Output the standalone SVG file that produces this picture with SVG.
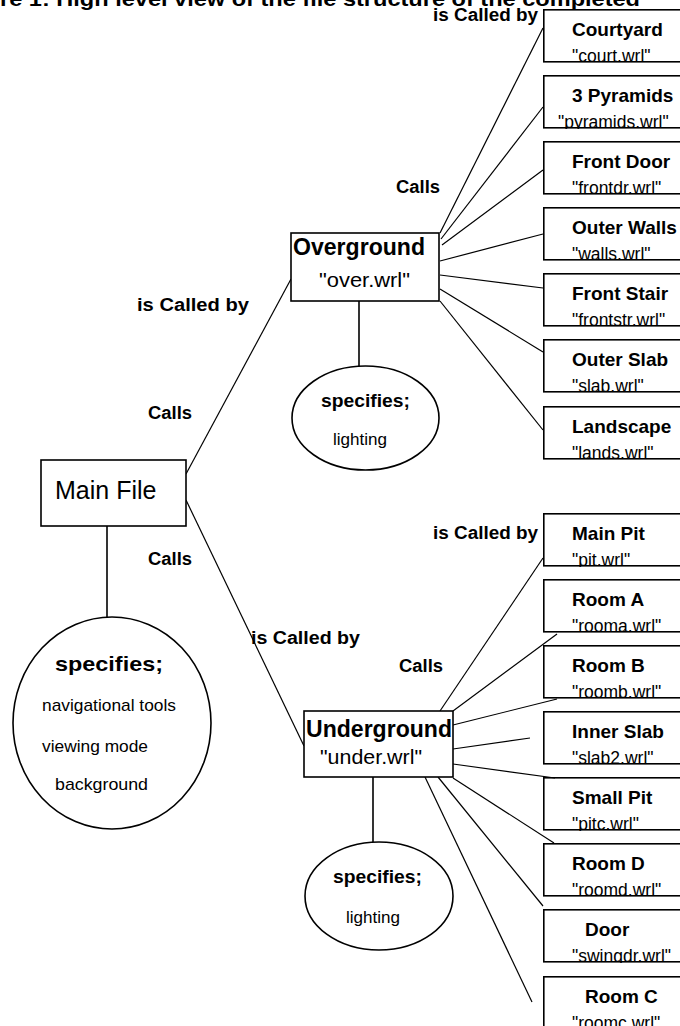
<svg xmlns="http://www.w3.org/2000/svg" width="680" height="1026" viewBox="0 0 680 1026">
<style>
text{font-family:"Liberation Sans",Arial,sans-serif;fill:#000}
.box{fill:none;stroke:#000;stroke-width:1.6}
.shape{fill:#fff;stroke:#000;stroke-width:1.6}
.ft{font-size:19px;font-weight:bold}
.fn{font-size:17.5px}
.lbl{font-size:18px;font-weight:bold}
.spec{font-weight:bold}
.conn line{stroke:#000;stroke-width:1.2}
.conn line.v{stroke-width:1.6}
</style>
<rect width="680" height="1026" fill="#fff"/>
<text x="0" y="5.5" font-size="20" font-weight="bold" textLength="640" lengthAdjust="spacingAndGlyphs">re 1: High level view of the file structure of the completed</text>

<g id="connectors" class="conn">
<line x1="440" y1="233" x2="543" y2="28"/>
<line x1="441" y1="239" x2="543" y2="107"/>
<line x1="442" y1="245" x2="543" y2="170"/>
<line x1="440" y1="261" x2="543" y2="234"/>
<line x1="440" y1="275" x2="543" y2="288"/>
<line x1="440" y1="289" x2="543" y2="352"/>
<line x1="440" y1="301" x2="543" y2="430"/>
<line x1="186" y1="474" x2="291" y2="279"/>
<line x1="186" y1="500" x2="304" y2="746"/>
<line class="v" x1="107" y1="526" x2="107" y2="617"/>
<line class="v" x1="359" y1="301" x2="359" y2="366"/>
<line class="v" x1="373" y1="777" x2="373" y2="842"/>
<line x1="440" y1="711" x2="543" y2="558"/>
<line x1="453" y1="711" x2="557" y2="634"/>
<line x1="453" y1="725" x2="557" y2="699"/>
<line x1="453" y1="749" x2="530" y2="738"/>
<line x1="453" y1="764" x2="555" y2="778"/>
<line x1="453" y1="778" x2="554" y2="843"/>
<line x1="438" y1="777" x2="543" y2="906"/>
<line x1="425" y1="777" x2="532" y2="1002"/>
</g>

<g id="labels">
<text class="lbl" x="433" y="21" textLength="105" lengthAdjust="spacingAndGlyphs">is Called by</text>
<text class="lbl" x="396" y="193" textLength="44" lengthAdjust="spacingAndGlyphs">Calls</text>
<text class="lbl" x="137" y="311" textLength="112" lengthAdjust="spacingAndGlyphs">is Called by</text>
<text class="lbl" x="148" y="419" textLength="44" lengthAdjust="spacingAndGlyphs">Calls</text>
<text class="lbl" x="148" y="565" textLength="44" lengthAdjust="spacingAndGlyphs">Calls</text>
<text class="lbl" x="251" y="644" textLength="109" lengthAdjust="spacingAndGlyphs">is Called by</text>
<text class="lbl" x="399" y="672" textLength="44" lengthAdjust="spacingAndGlyphs">Calls</text>
<text class="lbl" x="433" y="539" textLength="105" lengthAdjust="spacingAndGlyphs">is Called by</text>
</g>

<g id="main-file">
<rect class="shape" x="41" y="460" width="145" height="66"/>
<text x="55" y="499" font-size="25">Main File</text>
</g>
<g id="main-specifies">
<ellipse class="shape" cx="112" cy="723" rx="99" ry="106"/>
<text class="spec" x="55" y="671" font-size="21" textLength="108" lengthAdjust="spacingAndGlyphs">specifies;</text>
<text x="42" y="711" font-size="17" textLength="134" lengthAdjust="spacingAndGlyphs">navigational tools</text>
<text x="42" y="752" font-size="17" textLength="106" lengthAdjust="spacingAndGlyphs">viewing mode</text>
<text x="55" y="790" font-size="17" textLength="93" lengthAdjust="spacingAndGlyphs">background</text>
</g>

<g id="overground">
<rect class="shape" x="291" y="233" width="148" height="68"/>
<text x="293" y="255" font-size="23" font-weight="bold" textLength="132" lengthAdjust="spacingAndGlyphs">Overground</text>
<text x="319" y="287" font-size="21" textLength="91" lengthAdjust="spacingAndGlyphs">"over.wrl"</text>
</g>
<g id="over-specifies">
<ellipse class="shape" cx="365.5" cy="418" rx="73.5" ry="52"/>
<text class="spec" x="321" y="407" font-size="18" textLength="89" lengthAdjust="spacingAndGlyphs">specifies;</text>
<text x="333" y="445" font-size="16" textLength="54" lengthAdjust="spacingAndGlyphs">lighting</text>
</g>

<g id="underground">
<rect class="shape" x="304" y="711" width="149" height="66"/>
<text x="306" y="737" font-size="23" font-weight="bold" textLength="146" lengthAdjust="spacingAndGlyphs">Underground</text>
<text x="320" y="764" font-size="21" textLength="102" lengthAdjust="spacingAndGlyphs">"under.wrl"</text>
</g>
<g id="under-specifies">
<ellipse class="shape" cx="379" cy="896" rx="74" ry="54"/>
<text class="spec" x="333" y="883" font-size="18" textLength="89" lengthAdjust="spacingAndGlyphs">specifies;</text>
<text x="346" y="923" font-size="16" textLength="54" lengthAdjust="spacingAndGlyphs">lighting</text>
</g>

<g id="courtyard"><svg x="543" y="9" width="140" height="54">
<text class="ft" x="29" y="27">Courtyard</text><text class="fn" x="29" y="53">"court.wrl"</text>
<rect class="box" x="0.8" y="0.8" width="200" height="52"/></svg></g>
<g id="pyramids"><svg x="543" y="75" width="140" height="54">
<text class="ft" x="29" y="27">3 Pyramids</text><text class="fn" x="15" y="53">"pyramids.wrl"</text>
<rect class="box" x="0.8" y="0.8" width="200" height="52"/></svg></g>
<g id="front-door"><svg x="543" y="141" width="140" height="54">
<text class="ft" x="29" y="27">Front Door</text><text class="fn" x="29" y="53">"frontdr.wrl"</text>
<rect class="box" x="0.8" y="0.8" width="200" height="52"/></svg></g>
<g id="outer-walls"><svg x="543" y="207" width="140" height="54">
<text class="ft" x="29" y="27">Outer Walls</text><text class="fn" x="29" y="53">"walls.wrl"</text>
<rect class="box" x="0.8" y="0.8" width="200" height="52"/></svg></g>
<g id="front-stair"><svg x="543" y="273" width="140" height="54">
<text class="ft" x="29" y="27">Front Stair</text><text class="fn" x="29" y="53">"frontstr.wrl"</text>
<rect class="box" x="0.8" y="0.8" width="200" height="52"/></svg></g>
<g id="outer-slab"><svg x="543" y="339" width="140" height="54">
<text class="ft" x="29" y="27">Outer Slab</text><text class="fn" x="29" y="53">"slab.wrl"</text>
<rect class="box" x="0.8" y="0.8" width="200" height="52"/></svg></g>
<g id="landscape"><svg x="543" y="406" width="140" height="54">
<text class="ft" x="29" y="27">Landscape</text><text class="fn" x="29" y="53">"lands.wrl"</text>
<rect class="box" x="0.8" y="0.8" width="200" height="52"/></svg></g>

<g id="main-pit"><svg x="543" y="513" width="140" height="54">
<text class="ft" x="29" y="27">Main Pit</text><text class="fn" x="29" y="53">"pit.wrl"</text>
<rect class="box" x="0.8" y="0.8" width="200" height="52"/></svg></g>
<g id="room-a"><svg x="543" y="579" width="140" height="54">
<text class="ft" x="29" y="27">Room A</text><text class="fn" x="29" y="53">"rooma.wrl"</text>
<rect class="box" x="0.8" y="0.8" width="200" height="52"/></svg></g>
<g id="room-b"><svg x="543" y="645" width="140" height="54">
<text class="ft" x="29" y="27">Room B</text><text class="fn" x="29" y="53">"roomb.wrl"</text>
<rect class="box" x="0.8" y="0.8" width="200" height="52"/></svg></g>
<g id="inner-slab"><svg x="543" y="711" width="140" height="54">
<text class="ft" x="29" y="27">Inner Slab</text><text class="fn" x="29" y="53">"slab2.wrl"</text>
<rect class="box" x="0.8" y="0.8" width="200" height="52"/></svg></g>
<g id="small-pit"><svg x="543" y="777" width="140" height="54">
<text class="ft" x="29" y="27">Small Pit</text><text class="fn" x="29" y="53">"pitc.wrl"</text>
<rect class="box" x="0.8" y="0.8" width="200" height="52"/></svg></g>
<g id="room-d"><svg x="543" y="843" width="140" height="54">
<text class="ft" x="29" y="27">Room D</text><text class="fn" x="29" y="53">"roomd.wrl"</text>
<rect class="box" x="0.8" y="0.8" width="200" height="52"/></svg></g>
<g id="door"><svg x="543" y="909" width="140" height="54">
<text class="ft" x="42" y="27">Door</text><text class="fn" x="29" y="53">"swingdr.wrl"</text>
<rect class="box" x="0.8" y="0.8" width="200" height="52"/></svg></g>
<g id="room-c"><svg x="543" y="976" width="140" height="54">
<text class="ft" x="42" y="27">Room C</text><text class="fn" x="29" y="53">"roomc.wrl"</text>
<rect class="box" x="0.8" y="0.8" width="200" height="52"/></svg></g>
</svg>
